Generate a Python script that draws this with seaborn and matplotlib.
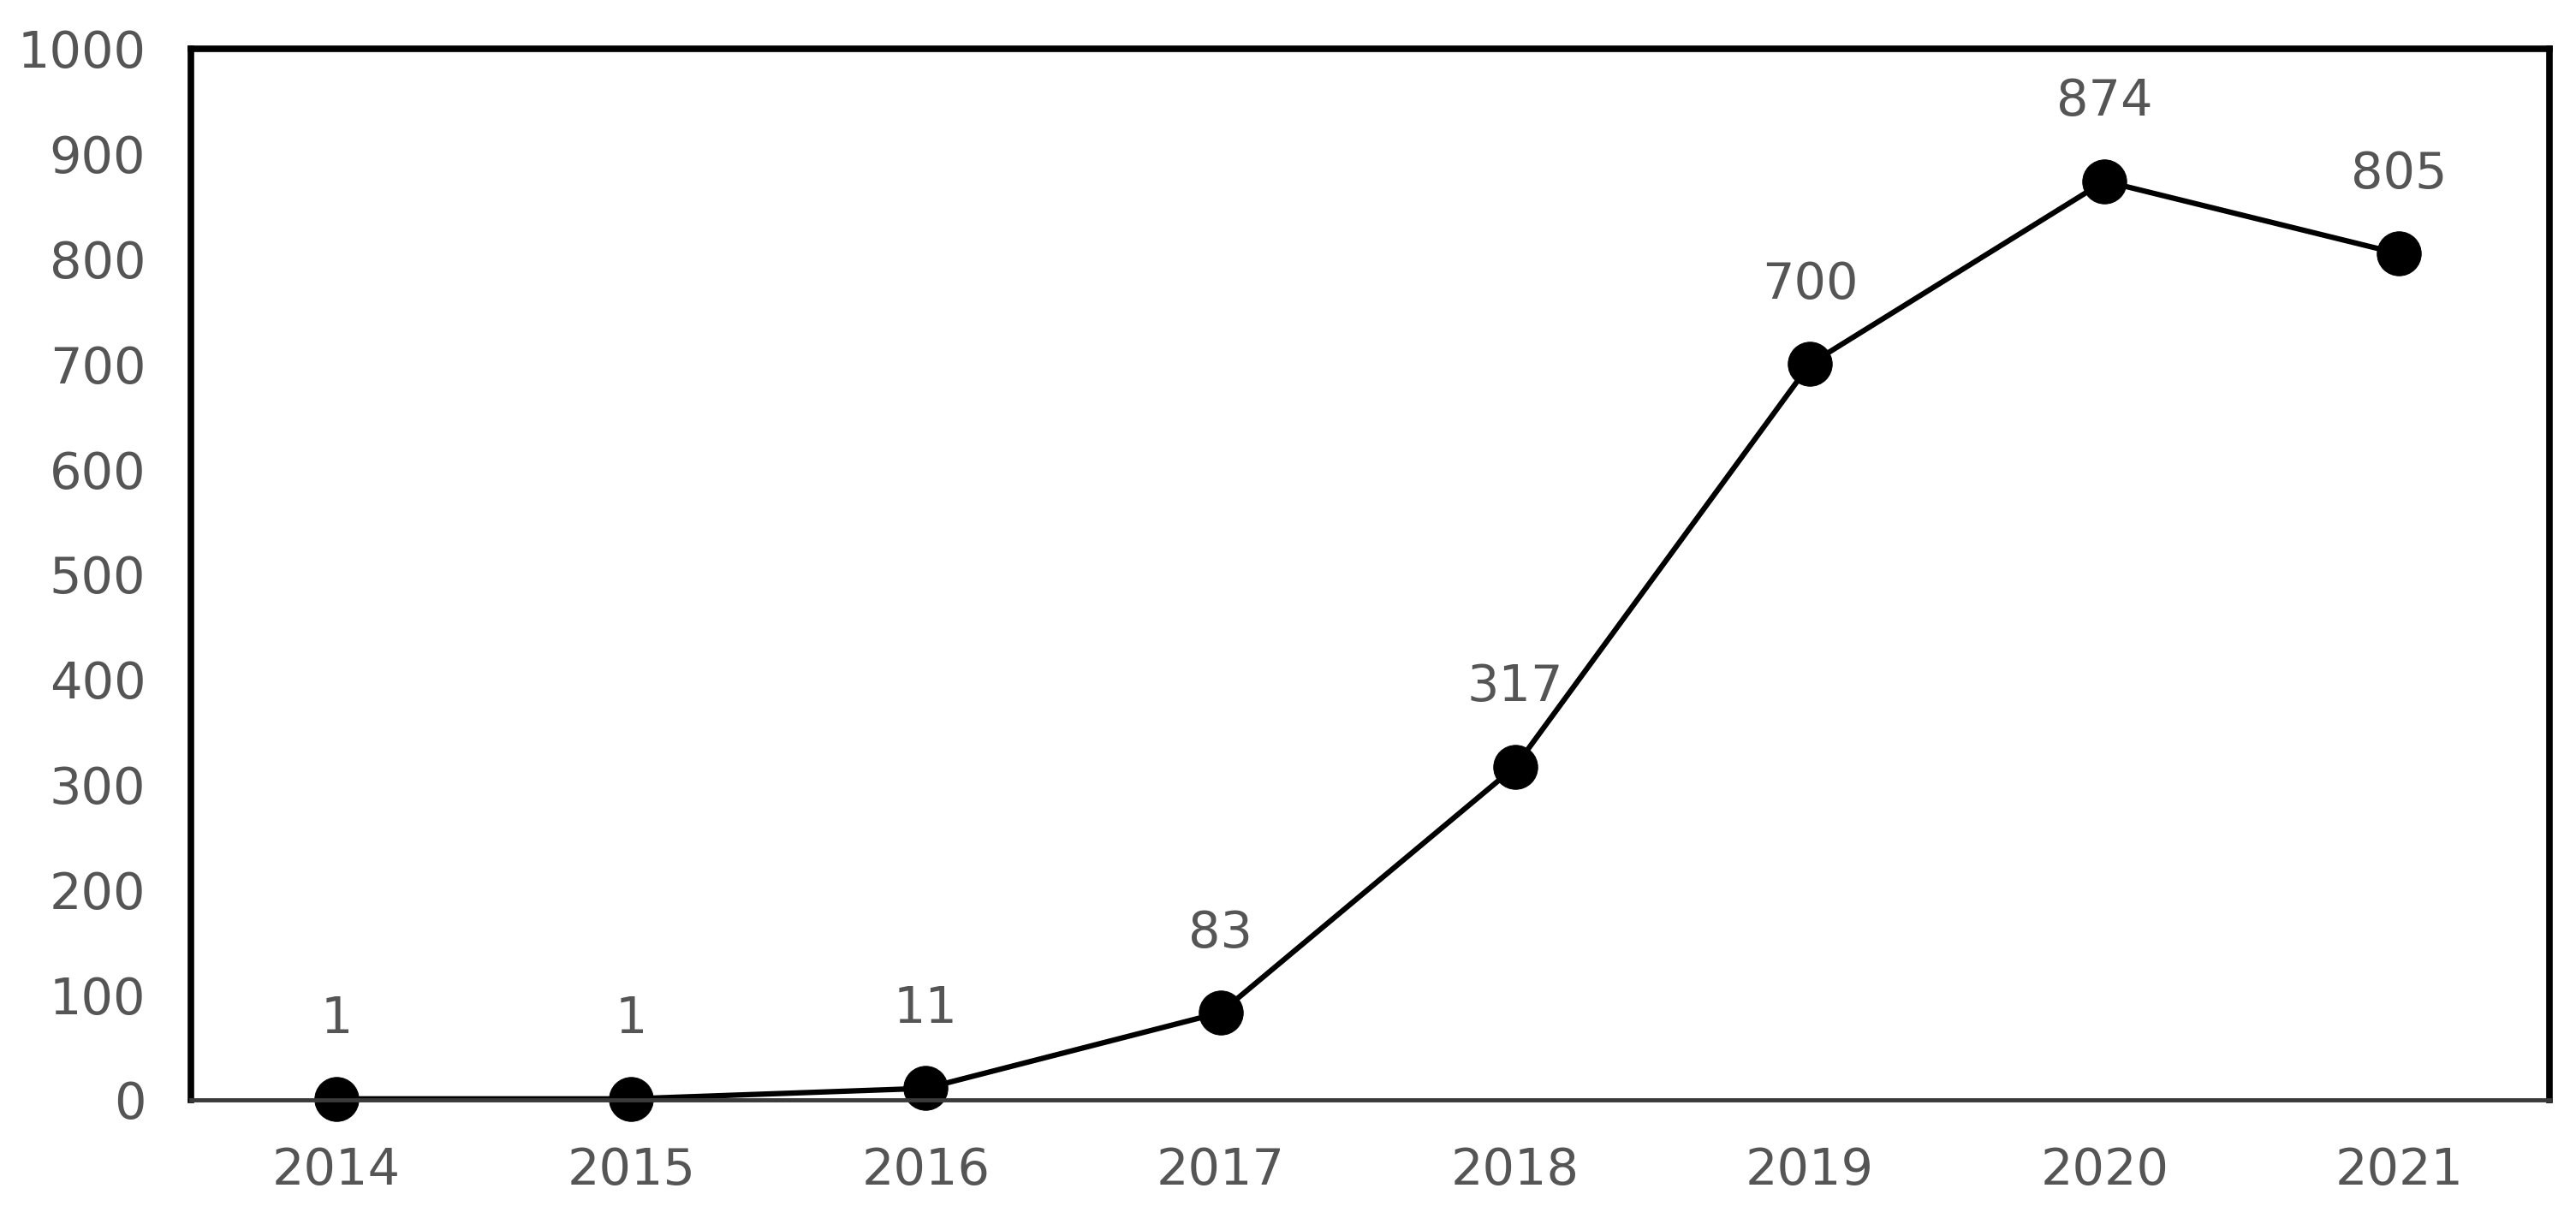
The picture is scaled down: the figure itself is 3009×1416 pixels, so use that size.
import numpy as np
import pandas as pd
import matplotlib
matplotlib.use("Agg")
import matplotlib.pyplot as plt
import seaborn as sns

years = [2014, 2015, 2016, 2017, 2018, 2019, 2020, 2021]
counts = [1, 1, 11, 83, 317, 700, 874, 805]
y_ticks = list(range(0, 1001, 100))

sns.set_style("white")
plt.rcParams['font.family'] = ['DejaVu Sans']

df = pd.DataFrame({"year": years, "count": counts})

fig = plt.figure(figsize=(30.09, 14.16), dpi=100)
ax = fig.add_axes([223 / 3009, 1 - 1285 / 1416, (2978 - 223) / 3009, (1285 - 57) / 1416])

sns.lineplot(data=df, x="year", y="count", ax=ax, color="black", linewidth=4.5,
             marker="o", markersize=37, markeredgecolor="black", clip_on=False)

for x, y in zip(years, counts):
    ax.annotate(str(y), (x, y), xytext=(0, 67), textcoords="offset points",
                ha="center", va="center", fontsize=42.5, color="#555555")

ax.set_xlim(2013.506, 2021.51)
ax.set_ylim(0, 1000)
ax.set_xticks(years)
ax.set_yticks(y_ticks)
ax.tick_params(axis="both", length=0, labelsize=42.5, labelcolor="#555555")
ax.tick_params(axis="x", pad=39)
ax.tick_params(axis="y", pad=38)
ax.set_xlabel("")
ax.set_ylabel("")

for side in ["left", "top", "right"]:
    ax.spines[side].set_color("black")
    ax.spines[side].set_linewidth(5.5)
ax.spines["bottom"].set_color("#3a3a3a")
ax.spines["bottom"].set_linewidth(3.5)

fig.savefig("out.png", dpi=100)
